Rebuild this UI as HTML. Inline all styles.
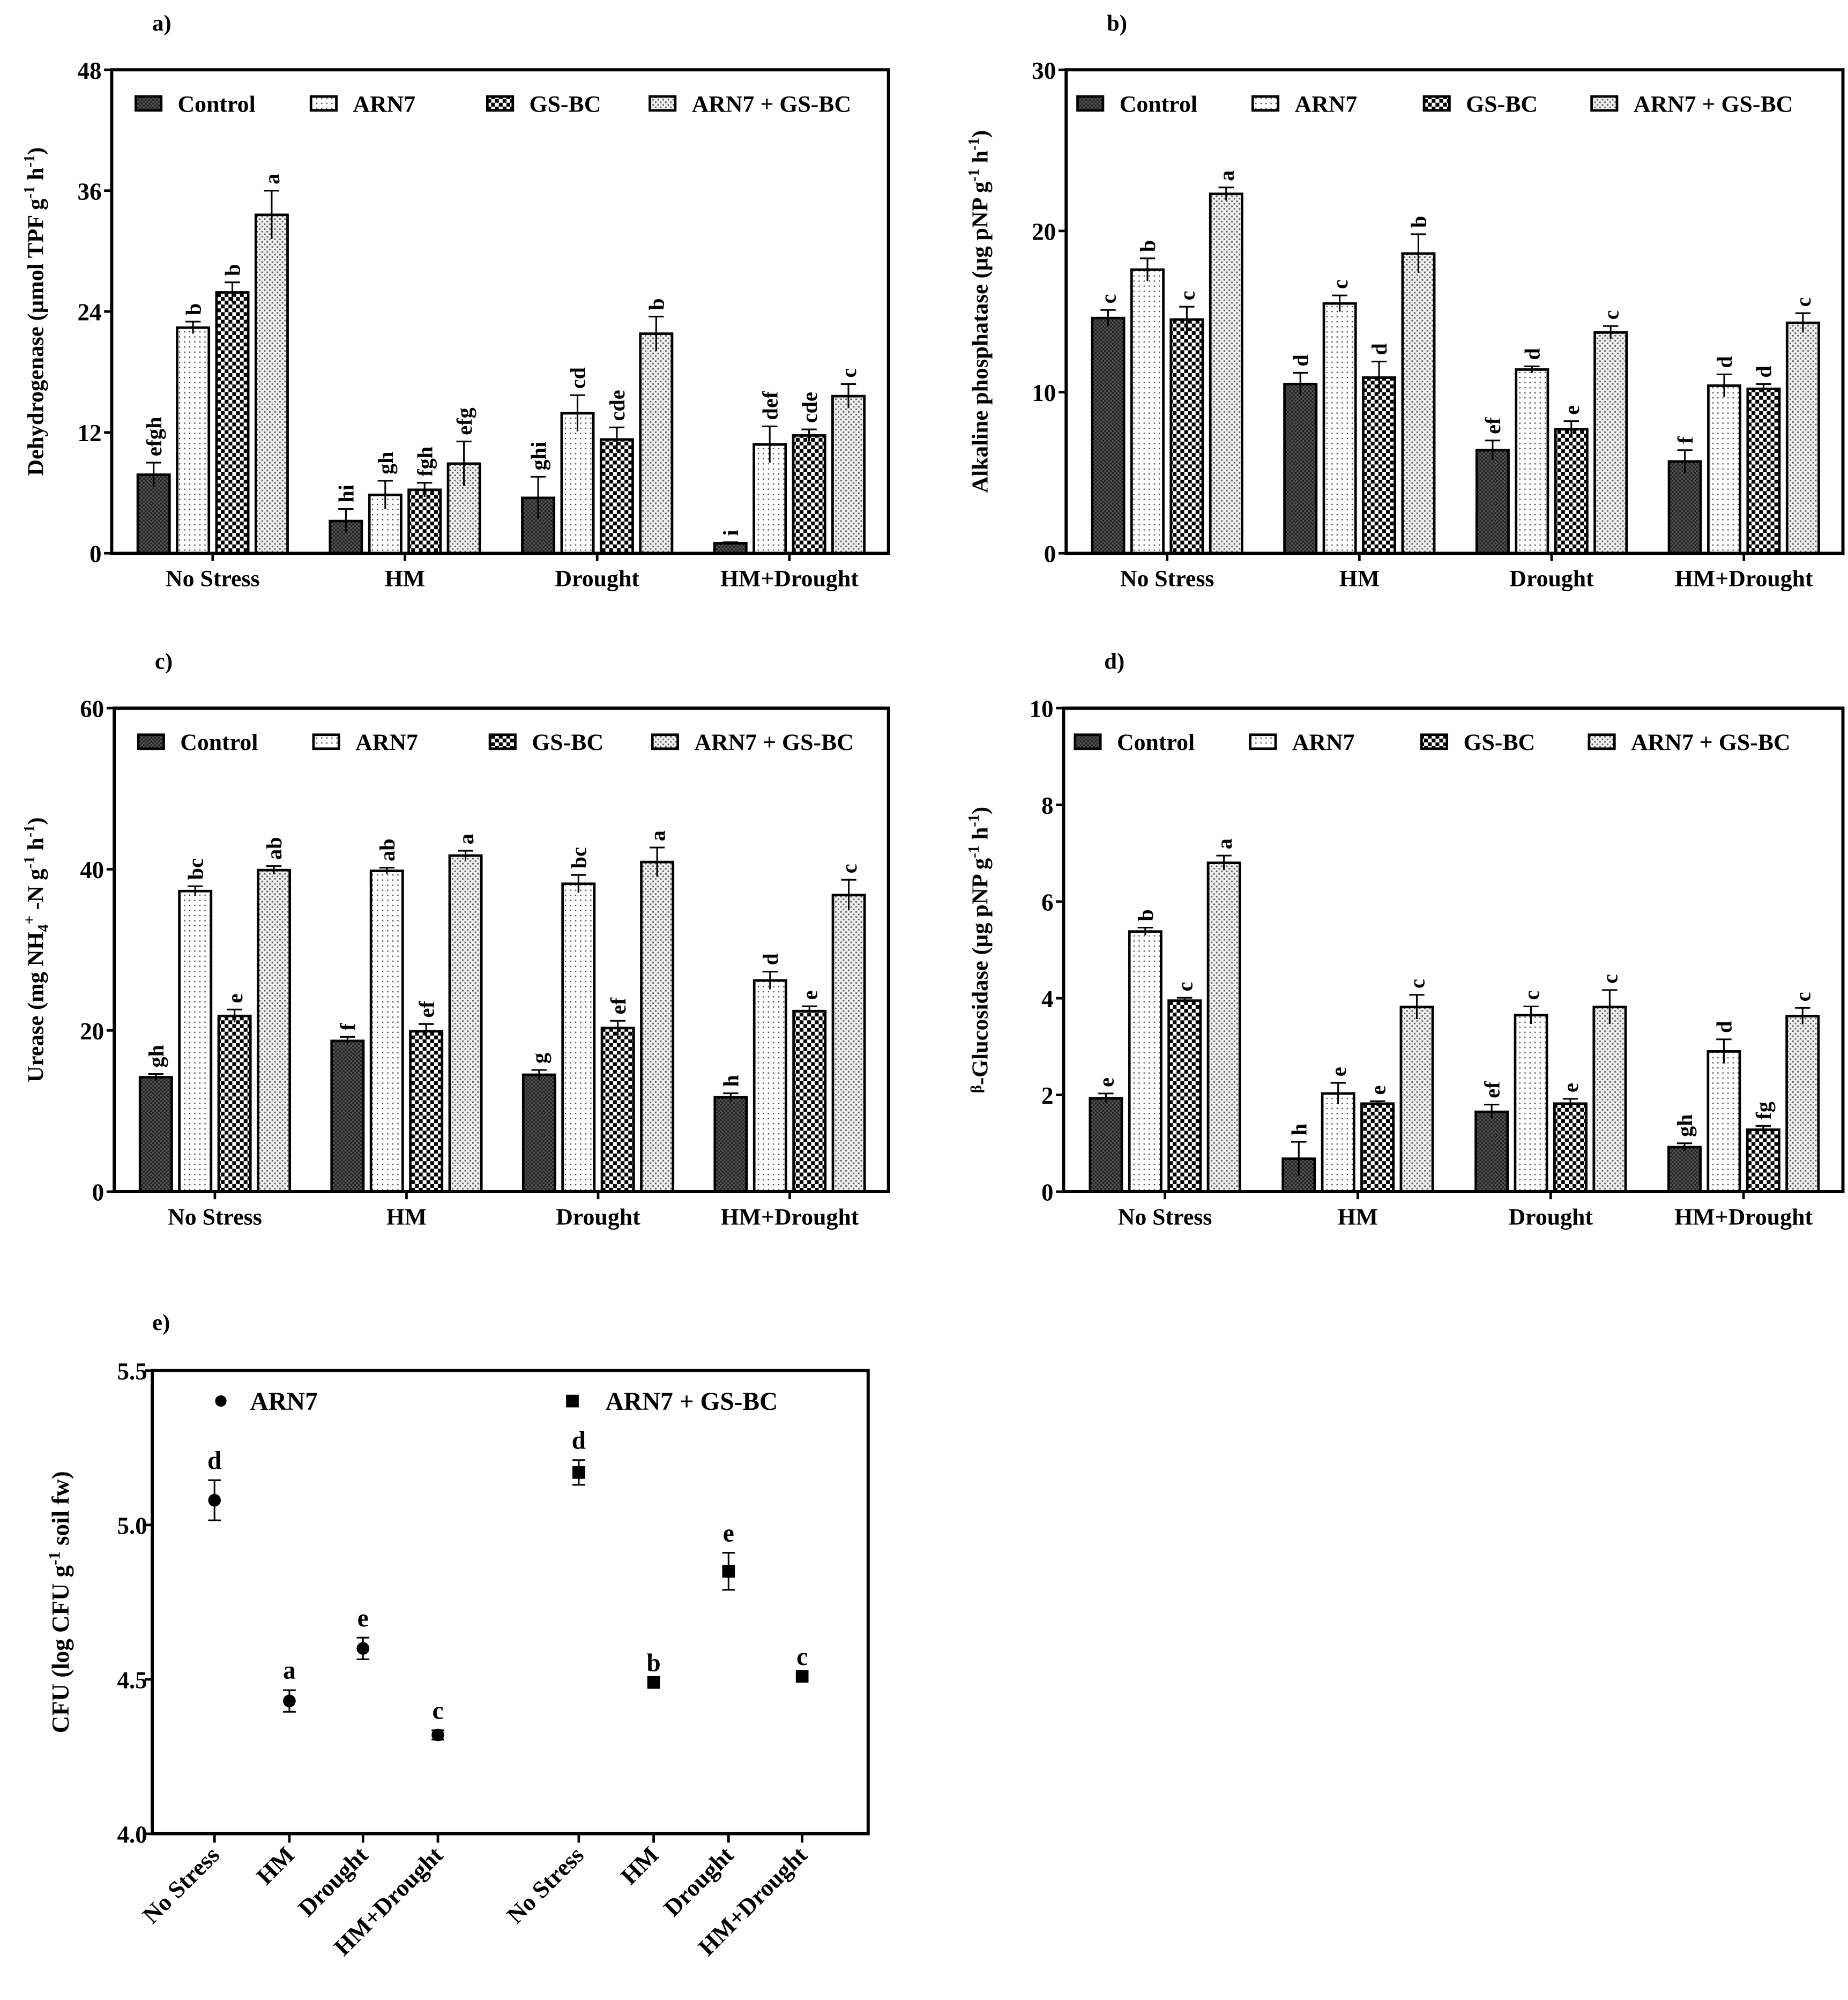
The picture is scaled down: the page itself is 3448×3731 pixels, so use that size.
<!DOCTYPE html>
<html><head><meta charset="utf-8">
<style>
html,body{margin:0;padding:0;background:#fff;}
svg{display:block;font-family:"Liberation Serif",serif;font-weight:bold;}
</style></head>
<body>
<svg id="fig" width="3448" height="3731" viewBox="0 0 1456 1576" preserveAspectRatio="none" xmlns="http://www.w3.org/2000/svg">
<defs>
<pattern id="pCtrl" width="3" height="3" patternUnits="userSpaceOnUse">
<rect width="3" height="3" fill="#555"/><rect width="1.5" height="1.5" fill="#222"/><rect x="1.5" y="1.5" width="1.5" height="1.5" fill="#222"/>
</pattern>
<pattern id="pArn" width="4" height="4" patternUnits="userSpaceOnUse">
<rect width="4" height="4" fill="#fff"/><rect x="1" y="1" width="1" height="1" fill="#444"/>
</pattern>
<pattern id="pGs" width="6" height="6" patternUnits="userSpaceOnUse">
<rect width="6" height="6" fill="#fff"/><rect width="3" height="3" fill="#000"/><rect x="3" y="3" width="3" height="3" fill="#000"/>
</pattern>
<pattern id="pAg" width="4" height="4" patternUnits="userSpaceOnUse">
<rect width="4" height="4" fill="#eee"/><rect x="0" y="0" width="1.2" height="1.2" fill="#555"/><rect x="2" y="2" width="1.2" height="1.2" fill="#555"/>
</pattern>
</defs>
</svg>
<script>
var groups = ["No Stress","HM","Drought","HM+Drought"];
var seriesNames = ["Control","ARN7","GS-BC","ARN7 + GS-BC"];

var dhCtrl = [7.8, 3.2, 5.5, 1.0];
var dhArn = [22.4, 5.8, 13.9, 10.8];
var dhGs = [25.9, 6.3, 11.3, 11.7];
var dhAg = [33.6, 8.9, 21.8, 15.6];
var dhErrCtrl = [1.2, 1.2, 2.1, 0.1];
var dhErrArn = [0.6, 1.4, 1.8, 1.8];
var dhErrGs = [1.0, 0.7, 1.2, 0.6];
var dhErrAg = [2.4, 2.2, 1.7, 1.2];
var dhLetters = [["efgh","hi","ghi","i"],["b","gh","cd","def"],["b","fgh","cde","cde"],["a","efg","b","c"]];
var dhTicks = [0,12,24,36,48];

var apCtrl = [14.6, 10.5, 6.4, 5.7];
var apArn = [17.6, 15.5, 11.4, 10.4];
var apGs = [14.5, 10.9, 7.7, 10.2];
var apAg = [22.3, 18.6, 13.7, 14.3];
var apErrCtrl = [0.5, 0.7, 0.6, 0.7];
var apErrArn = [0.7, 0.5, 0.2, 0.7];
var apErrGs = [0.8, 1.0, 0.5, 0.3];
var apErrAg = [0.4, 1.2, 0.4, 0.6];
var apLetters = [["c","d","ef","f"],["b","c","d","d"],["c","d","e","d"],["a","b","c","c"]];
var apTicks = [0,10,20,30];

var urCtrl = [14.2, 18.7, 14.5, 11.7];
var urArn = [37.3, 39.8, 38.2, 26.2];
var urGs = [21.8, 19.9, 20.3, 22.4];
var urAg = [39.9, 41.7, 40.9, 36.8];
var urErrCtrl = [0.4, 0.5, 0.6, 0.5];
var urErrArn = [0.6, 0.4, 1.1, 1.1];
var urErrGs = [0.8, 0.9, 0.9, 0.6];
var urErrAg = [0.5, 0.6, 1.8, 1.9];
var urLetters = [["gh","f","g","h"],["bc","ab","bc","d"],["e","ef","ef","e"],["ab","a","a","c"]];
var urTicks = [0,20,40,60];

var bgCtrl = [1.93, 0.68, 1.65, 0.92];
var bgArn = [5.38, 2.03, 3.65, 2.9];
var bgGs = [3.95, 1.82, 1.82, 1.28];
var bgAg = [6.8, 3.82, 3.82, 3.63];
var bgErrCtrl = [0.1, 0.35, 0.15, 0.08];
var bgErrArn = [0.08, 0.22, 0.18, 0.25];
var bgErrGs = [0.06, 0.05, 0.1, 0.08];
var bgErrAg = [0.15, 0.25, 0.35, 0.17];
var bgLetters = [["e","h","ef","gh"],["b","e","c","d"],["c","e","e","fg"],["a","c","c","c"]];
var bgTicks = [0,2,4,6,8,10];

var cfuArn = [5.08, 4.43, 4.60, 4.32];
var cfuArnErr = [0.065, 0.035, 0.035, 0.015];
var cfuArnLetters = ["d","a","e","c"];
var cfuAg = [5.17, 4.49, 4.85, 4.51];
var cfuAgErr = [0.04, 0, 0.06, 0];
var cfuAgLetters = ["d","b","e","c"];
var cfuTicks = [4.0, 4.5, 5.0, 5.5];

var NS = "http://www.w3.org/2000/svg";
var svg = document.getElementById("fig");
var fills = ["url(#pCtrl)","url(#pArn)","url(#pGs)","url(#pAg)"];
function mk(tag, attrs, parent, text){
  var e = document.createElementNS(NS, tag);
  for (var k in attrs) e.setAttribute(k, attrs[k]);
  if (text !== undefined) e.textContent = text;
  (parent || svg).appendChild(e);
  return e;
}

function barPanel(key, label, L, T, R, B, ymax, ticks, vals, errs, letters, yTitleHtml, yTitleX, legOff){
  var g = mk("g", {});
  
  
  function ys(v){ return B - (v/ymax)*(B-T); }
  var W = R - L;
  function gx(i){ return L + W*(0.13 + 0.2475*i); }
  var t = mk("text", {x: L+32, y: T-31, "font-size": 18}, g, label);
  
  
  for (var s=0; s<4; s++){
    for (var i=0; i<4; i++){
      var cx = gx(i) + (s-1.5)*31;
      var v = vals[s][i];
      var r = mk("rect", {x: cx-12.5, y: ys(v), width: 25, height: B-ys(v), fill: fills[s], stroke: "#000", "stroke-width": 2}, g);
      
      
      var e = errs[s][i];
      var eb = mk("path", {d: "M"+cx+","+ys(v-e)+"V"+ys(v+e)+"M"+(cx-6)+","+ys(v+e)+"H"+(cx+6), stroke:"#000","stroke-width":1.3, fill:"none"}, g);
      
      
      var ly = ys(v+e) - 5;
      var lt = mk("text", {x: cx+6, y: ly, "font-size": 17, transform: "rotate(-90 "+(cx+6)+" "+ly+")"}, g, letters[s][i]);
      
      
    }
  }
  var fr = mk("rect", {x: L, y: T, width: W, height: B-T, fill: "none", stroke: "#000", "stroke-width": 2.5}, g);
  
  
  for (var k=0; k<ticks.length; k++){
    var y = ys(ticks[k]);
    mk("line", {x1: L-6, x2: L, y1: y, y2: y, stroke: "#000", "stroke-width": 2}, g);
    var tl = mk("text", {x: L-8, y: y+7, "font-size": 19, "text-anchor": "end"}, g, ticks[k]);
    
    
  }
  for (var i2=0; i2<4; i2++){
    mk("line", {x1: gx(i2), x2: gx(i2), y1: B, y2: B+6, stroke: "#000", "stroke-width": 2}, g);
    var xl = mk("text", {x: gx(i2), y: B+26, "font-size": 18.5, "text-anchor": "middle"}, g, groups[i2]);
    
    
  }
  var legY = T + 27;
  for (var s2=0; s2<4; s2++){
    var bx = L + legOff[s2];
    var lb = mk("rect", {x: bx, y: legY-6, width: 20, height: 11, fill: fills[s2], stroke: "#000", "stroke-width": 2}, g);
    
    
    var ltx = mk("text", {x: bx + 33, y: legY+6, "font-size": 18.5}, g, seriesNames[s2]);
    
    
  }
  var cy = (T+B)/2;
  var yt = mk("text", {x: yTitleX, y: cy, "font-size": 18, "text-anchor": "middle", transform: "rotate(-90 "+yTitleX+" "+cy+")"}, g);
  yt.innerHTML = yTitleHtml;
  
  
}

var legA = [19, 157, 296, 424];
var legB = [9, 147, 282, 414];
barPanel("dehydrogenase", "a)", 88, 55, 700, 436, 48, dhTicks,
  [dhCtrl, dhArn, dhGs, dhAg], [dhErrCtrl, dhErrArn, dhErrGs, dhErrAg], dhLetters,
  'Dehydrogenase (µmol TPF g<tspan dy="-7" font-size="12">-1</tspan><tspan dy="7"> h</tspan><tspan dy="-7" font-size="12">-1</tspan><tspan dy="7">)</tspan>', 34, legA);
barPanel("alkaline-phosphatase", "b)", 840, 55, 1452, 436, 30, apTicks,
  [apCtrl, apArn, apGs, apAg], [apErrCtrl, apErrArn, apErrGs, apErrAg], apLetters,
  'Alkaline phosphatase (µg pNP g<tspan dy="-7" font-size="12">-1</tspan><tspan dy="7"> h</tspan><tspan dy="-7" font-size="12">-1</tspan><tspan dy="7">)</tspan>', 778, legB);
barPanel("urease", "c)", 90, 558, 700, 939, 60, urTicks,
  [urCtrl, urArn, urGs, urAg], [urErrCtrl, urErrArn, urErrGs, urErrAg], urLetters,
  'Urease (mg NH<tspan dy="4" font-size="12">4</tspan><tspan dy="-11" font-size="12">+</tspan><tspan dy="7"> -N g</tspan><tspan dy="-7" font-size="12">-1</tspan><tspan dy="7"> h</tspan><tspan dy="-7" font-size="12">-1</tspan><tspan dy="7">)</tspan>', 34, legA);
barPanel("beta-glucosidase", "d)", 838, 558, 1452, 939, 10, bgTicks,
  [bgCtrl, bgArn, bgGs, bgAg], [bgErrCtrl, bgErrArn, bgErrGs, bgErrAg], bgLetters,
  '<tspan font-size="12" dy="-5">β</tspan><tspan dy="5">-Glucosidase (µg pNP g</tspan><tspan dy="-7" font-size="12">-1</tspan><tspan dy="7"> h</tspan><tspan dy="-7" font-size="12">-1</tspan><tspan dy="7">)</tspan>', 778, legB);

(function(){
  var L=120, T=1080, R=684, B=1445, ymin=4.0, ymax=5.5;
  var g = mk("g", {});
  
  
  function ys(v){ return B - (v-ymin)/(ymax-ymin)*(B-T); }
  var xs = [169, 228, 286, 345, 456, 515, 574, 632];
  var lab = mk("text", {x: 120, y: 1048, "font-size": 18}, g, "e)");
  
  
  var fr = mk("rect", {x: L, y: T, width: R-L, height: B-T, fill:"none", stroke:"#000","stroke-width":2.5}, g);
  
  
  for (var k=0;k<cfuTicks.length;k++){
    var y = ys(cfuTicks[k]);
    mk("line", {x1:L-6,x2:L,y1:y,y2:y,stroke:"#000","stroke-width":2}, g);
    var tl = mk("text", {x:L-4, y:y+7, "font-size":19, "text-anchor":"end"}, g, cfuTicks[k].toFixed(1));
    
    
  }
  function drawSeries(vals, errs, letters, off, square){
    for (var i=0;i<4;i++){
      var x = xs[i+off], v = vals[i], e = errs[i];
      if (e>0){
        var eb = mk("path", {d:"M"+x+","+ys(v-e)+"V"+ys(v+e)+"M"+(x-5)+","+ys(v+e)+"H"+(x+5)+"M"+(x-5)+","+ys(v-e)+"H"+(x+5), stroke:"#000","stroke-width":1.3,fill:"none"}, g);
        
        
      }
      var m = square ? mk("rect", {x:x-5, y:ys(v)-5, width:10, height:10, fill:"#000"}, g)
                     : mk("circle", {cx:x, cy:ys(v), r:5, fill:"#000"}, g);
      
      
      var lt = mk("text", {x:x, y:ys(v+e)-9, "font-size":20, "text-anchor":"middle"}, g, letters[i]);
      
      
      mk("line", {x1:x,x2:x,y1:B,y2:B+7,stroke:"#000","stroke-width":2}, g);
      var xl = mk("text", {x:x+5, y:B+18, "font-size":19, "text-anchor":"end", transform:"rotate(-45 "+(x+5)+" "+(B+18)+")"}, g, groups[i]);
      
      
    }
  }
  drawSeries(cfuArn, cfuArnErr, cfuArnLetters, 0, false);
  drawSeries(cfuAg, cfuAgErr, cfuAgLetters, 4, true);
  var c1 = mk("circle", {cx:174, cy:1104, r:4.5, fill:"#000"}, g);
  
  
  var t1 = mk("text", {x:197, y:1111, "font-size":20}, g, "ARN7");
  
  
  var s1 = mk("rect", {x:446, y:1099, width:10, height:10, fill:"#000"}, g);
  
  
  var t2 = mk("text", {x:477, y:1111, "font-size":20}, g, "ARN7 + GS-BC");
  
  
  var cy = (T+B)/2;
  var yt = mk("text", {x:54, y:cy, "font-size":19, "text-anchor":"middle", transform:"rotate(-90 54 "+cy+")"}, g);
  yt.innerHTML = 'CFU (log CFU g<tspan dy="-7" font-size="13">-1</tspan><tspan dy="7"> soil fw)</tspan>';
  
  
})();
</script>
</body></html>
